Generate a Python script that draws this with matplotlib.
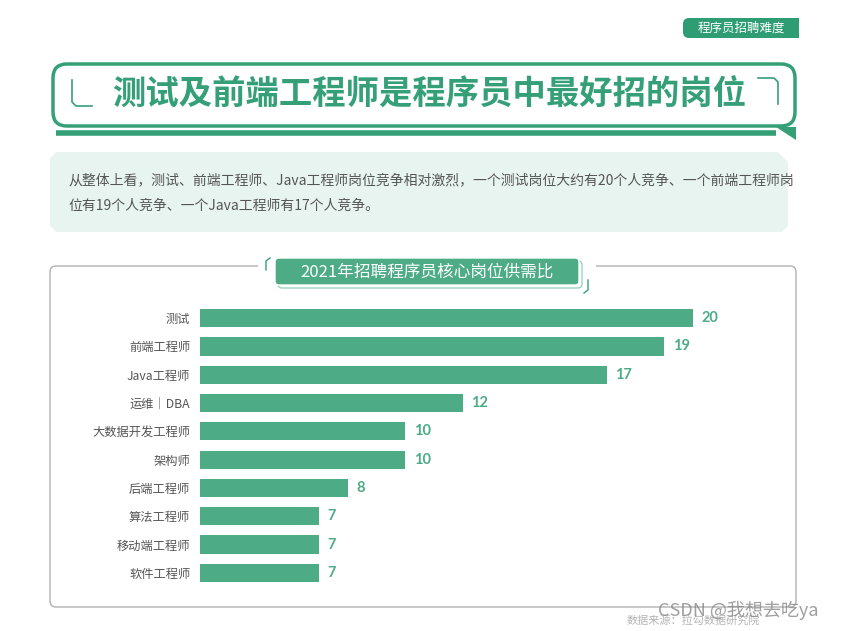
import matplotlib.pyplot as plt
from matplotlib.patches import FancyBboxPatch, Polygon, Rectangle

plt.rcParams['font.family'] = ['Noto Sans CJK SC', 'DejaVu Sans']

# data
positions = ['测试', '前端工程师', 'Java工程师', '运维｜DBA', '大数据开发工程师',
             '架构师', '后端工程师', '算法工程师', '移动端工程师', '软件工程师']
ratios = [20, 19, 17, 12, 10, 10, 8, 7, 7, 7]

tag_text = '程序员招聘难度'
headline = '测试及前端工程师是程序员中最好招的岗位'
summary = ['从整体上看，测试、前端工程师、Java工程师岗位竞争相对激烈，一个测试岗位大约有20个人竞争、一个前端工程师岗',
           '位有19个人竞争、一个Java工程师有17个人竞争。']
chart_title = '2021年招聘程序员核心岗位供需比'
source = '数据来源：拉勾数据研究院'
watermark = 'CSDN @我想去吃ya'

GREEN = '#35a078'
BAR = '#4dab86'
W, H = 844, 631

fig = plt.figure(figsize=(8.44, 6.31), dpi=100)
bg = fig.add_axes([0, 0, 1, 1])
bg.set_xlim(0, W)
bg.set_ylim(H, 0)
bg.axis('off')

# top-right tag
bg.add_patch(FancyBboxPatch((683, 18), 116, 20, boxstyle='round,pad=0,rounding_size=6',
                            fc='#2f9d74', ec='none'))
bg.add_patch(Rectangle((760, 18), 39, 20, fc='#2f9d74', ec='none'))
bg.text(741, 28.5, tag_text, color='white', fontsize=9, ha='center', va='center')

# headline bubble
bg.plot([56, 776], [133, 133], color=GREEN, lw=4, solid_capstyle='butt')
bg.add_patch(Polygon([[776, 127], [796, 127], [796, 140]], closed=True, fc=GREEN, ec='none'))
bg.add_patch(FancyBboxPatch((53, 64), 742, 62, boxstyle='round,pad=0,rounding_size=14',
                            fc='white', ec=GREEN, lw=2.5))
bg.plot([72, 72, 76, 92], [80, 102, 106, 106], color=GREEN, lw=1.2)
bg.plot([758, 774, 778, 778], [78, 78, 82, 104], color=GREEN, lw=1.2)
bg.text(429, 95, headline, color=GREEN, fontsize=24, fontweight='heavy',
        ha='center', va='center')

# summary box
bg.add_patch(Polygon([[56, 152], [778, 152], [788, 162], [788, 226], [782, 232],
                      [56, 232], [50, 226], [50, 158]], closed=True, fc='#e8f4ef', ec='none'))
bg.text(68, 180, summary[0], color='#555555', fontsize=10, va='center')
bg.text(68, 206, summary[1], color='#555555', fontsize=10, va='center')

# chart panel
bg.add_patch(FancyBboxPatch((50, 266), 746, 341, boxstyle='round,pad=0,rounding_size=6',
                            fc='none', ec='#b0b0b0', lw=1))
bg.add_patch(Rectangle((258, 262), 338, 8, fc='white', ec='none'))
bg.add_patch(FancyBboxPatch((278, 261), 304, 27, boxstyle='round,pad=0,rounding_size=4',
                            fc='none', ec='#9fd3bd', lw=1))
bg.add_patch(FancyBboxPatch((275, 258), 304, 27, boxstyle='round,pad=0,rounding_size=4',
                            fc=BAR, ec='white', lw=1))
bg.plot([270, 266, 266], [258, 261, 270], color=GREEN, lw=1)
bg.plot([588, 588, 584], [280, 290, 293], color=GREEN, lw=1)
bg.text(427, 272, chart_title, color='white', fontsize=12, ha='center', va='center')

# bars
ax = fig.add_axes([200 / W, 1 - 587 / H, (693 - 200) / W, (587 - 304) / H])
y = range(len(positions))
ax.barh(y, ratios, height=0.64, color=BAR)
ax.set_xlim(2.86, 20)
ax.set_ylim(len(positions) - 0.5, -0.5)
ax.set_yticks(list(y), positions)
ax.tick_params(axis='y', length=0, pad=7, labelsize=8.8, labelcolor='#555555')
ax.set_xticks([])
for s in ax.spines.values():
    s.set_visible(False)
ax.patch.set_alpha(0)
for i, v in enumerate(ratios):
    ax.annotate(str(v), (v, i), xytext=(6, 0), textcoords='offset points',
                va='center', ha='left', color=BAR, fontsize=10.5, fontweight='bold',
                family=['Lato', 'DejaVu Sans'], annotation_clip=False)

# footer
bg.text(627, 620, source, color='#b5b5b5', fontsize=8, va='center')
bg.text(658, 610, watermark, color='#888888', fontsize=13, va='center', alpha=0.8)

fig.savefig('out.png', dpi=100)
